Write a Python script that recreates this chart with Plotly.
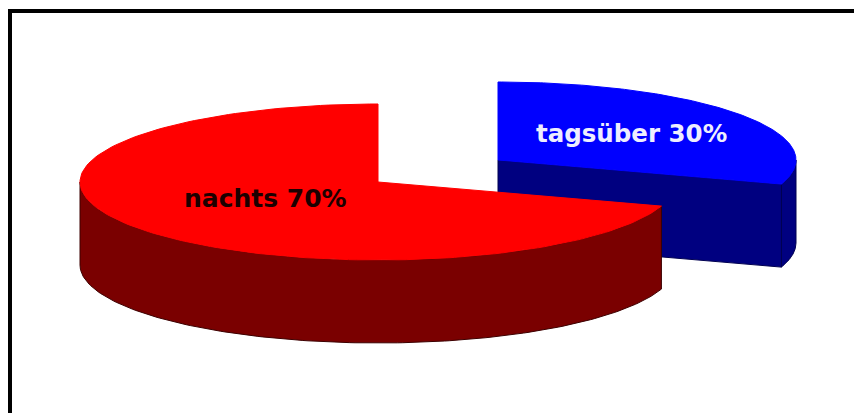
import numpy as np
import plotly.graph_objects as go

categories = ["nachts", "tagsüber"]
shares = [70, 30]

W, H = 854, 413
RX, RY, DEPTH = 298, 78, 83
CENTERS = {"nachts": (378, 182), "tagsüber": (498, 160)}
TOP = {"nachts": "#ff0000", "tagsüber": "#0000ff"}
SIDE = {"nachts": "#7a0000", "tagsüber": "#000080"}
EDGE = {"nachts": "#3c0000", "tagsüber": "#000050"}
LABEL_POS = {"nachts": (265, 198), "tagsüber": (631, 133)}
LABEL_COL = {"nachts": "#1c0000", "tagsüber": "#eeeeff"}
LABEL_SIZE = {"nachts": 25, "tagsüber": 24.5}


def arc(cx, cy, a0, a1, n=160):
    t = np.radians(np.linspace(a0, a1, n))
    return cx + RX * np.cos(t), cy - RY * np.sin(t)


def poly(fig, x, y, fill, edge):
    fig.add_trace(go.Scatter(
        x=list(x) + [x[0]], y=list(y) + [y[0]], mode="lines", fill="toself",
        fillcolor=fill, line=dict(color=edge, width=1), hoverinfo="skip",
        showlegend=False))


def wedge(fig, name, start, end):
    """Pie wedge running counter-clockwise from angle start to end (degrees)."""
    cx, cy = CENTERS[name]
    # outer rim: the part of the arc on the front half of the disc
    lo = max(start, 180)
    hi = min(end, 360)
    if hi > lo:
        ax, ay = arc(cx, cy, lo, hi)
        poly(fig, np.r_[ax, ax[::-1]], np.r_[ay, ay[::-1] + DEPTH], SIDE[name], EDGE[name])
    # front-facing cut through the centre
    ex, ey = arc(cx, cy, start, start, 1)
    if name == "tagsüber":
        poly(fig, [cx, ex[0], ex[0], cx], [cy, ey[0], ey[0] + DEPTH, cy + DEPTH], SIDE[name], EDGE[name])
    # top face
    ax, ay = arc(cx, cy, start, end)
    poly(fig, np.r_[cx, ax], np.r_[cy, ay], TOP[name], TOP[name])


fig = go.Figure()
total = sum(shares)
night, day = shares[0] / total * 360, shares[1] / total * 360
# tagsüber: clockwise from 12 o'clock; nachts: counter-clockwise from 12 o'clock
wedge(fig, "tagsüber", 360 + 90 - day, 360 + 90)
wedge(fig, "nachts", 90, 90 + night)

annotations = []
for name, val in zip(categories, shares):
    x, y = LABEL_POS[name]
    annotations.append(dict(
        x=x, y=y, xref="x", yref="y", text=f"<b>{name} {val}%</b>", showarrow=False,
        font=dict(family="DejaVu Sans", size=LABEL_SIZE[name], color=LABEL_COL[name])))

fig.update_layout(
    width=W, height=H, margin=dict(l=0, r=0, t=0, b=0),
    paper_bgcolor="white", plot_bgcolor="white", showlegend=False,
    xaxis=dict(range=[0, W], visible=False, fixedrange=True),
    yaxis=dict(range=[H, 0], visible=False, fixedrange=True),
    annotations=annotations,
    shapes=[dict(type="rect", xref="x", yref="y", x0=10, y0=11, x1=W + 40, y1=H + 40,
                 line=dict(color="black", width=4), fillcolor="rgba(0,0,0,0)", layer="below")],
)
fig.write_html("out.html", config={"displayModeBar": False},
               post_script="document.body.style.margin='0';document.documentElement.style.overflow='hidden';window.dispatchEvent(new Event('resize'));")
